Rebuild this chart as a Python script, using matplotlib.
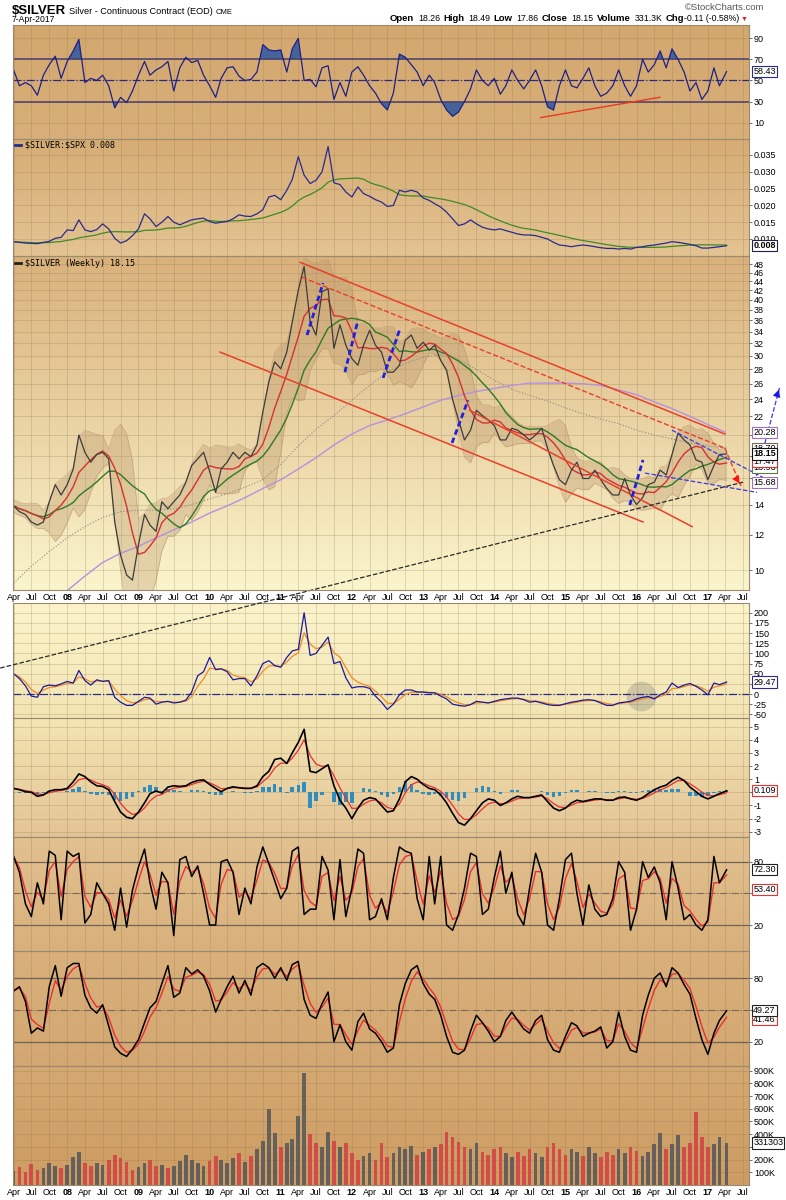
import matplotlib
matplotlib.use('Agg')
import matplotlib.pyplot as plt
import matplotlib.colors as mcolors
from matplotlib import font_manager
from matplotlib.ticker import NullLocator
import numpy as np
import pandas as pd

plt.rcParams['font.family'] = ['Liberation Sans', 'DejaVu Sans']

# ---------------- data: monthly readings, Apr 2007 .. Apr 2017 ----------------
price = ([13.9, 13.5, 13.3, 12.8, 12.6, 12.8, 14.2, 15.5, 14.7]                     # 2007 Apr-Dec
         + [15.5, 16.8, 20.0, 18.3, 17.4, 18.1, 18.3, 17.7, 12.8, 10.8, 9.75, 9.5]   # 2008
         + [11.4, 13.3, 12.6, 12.2, 14.2, 13.7, 14.2, 14.7, 15.7, 17.1, 17.7, 18.3]  # 2009
         + [16.6, 14.9, 16.8, 17.4, 18.3, 17.7, 18.3, 17.9, 19.0, 22.5, 26.3, 29.1]  # 2010
         + [28.1, 30.6, 35.7, 42.0, 47.5, 35.7, 33.4, 41.7, 42.4, 31.2, 35.2, 31.7]  # 2011
         + [29.6, 28.6, 31.7, 34.2, 31.7, 30.6, 27.6, 27.6, 28.6, 32.5, 33.4, 31.2]  # 2012
         + [32.2, 30.9, 31.7, 29.3, 27.9, 24.0, 21.6, 19.5, 20.5, 22.7, 22.1, 21.6]  # 2013
         + [21.0, 19.5, 19.5, 20.7, 20.5, 20.0, 19.5, 20.0, 20.7, 18.7, 17.1, 15.9]  # 2014
         + [15.5, 16.7, 17.4, 16.0, 16.0, 16.7, 15.9, 15.2, 14.7, 14.7, 16.0, 14.7]  # 2015
         + [14.0, 14.5, 15.5, 15.7, 16.7, 16.3, 18.1, 20.2, 19.5, 19.0, 17.6, 17.4]  # 2016
         + [15.9, 17.1, 18.1, 18.15])                                                # 2017

rsi = ([60, 45, 48, 45, 36, 55, 65, 73, 52]
       + [68, 78, 89, 48, 52, 50, 55, 45, 24, 34, 29, 40]
       + [55, 68, 55, 60, 63, 68, 40, 62, 72, 67, 69, 55]
       + [45, 34, 52, 62, 63, 54, 50, 51, 58, 84, 79, 78]
       + [79, 58, 80, 90, 50, 51, 44, 62, 64, 32, 48, 35]
       + [58, 63, 55, 45, 38, 28, 22, 38, 75, 72, 65, 58]
       + [45, 55, 48, 32, 22, 16, 20, 30, 42, 60, 50, 45]
       + [52, 37, 45, 60, 50, 42, 50, 60, 45, 25, 22, 45]
       + [60, 45, 43, 52, 62, 45, 35, 38, 45, 60, 45, 35]
       + [45, 70, 58, 65, 78, 62, 80, 70, 58, 40, 48, 32]
       + [40, 62, 45, 58.43])

ratio = ([0.0092, 0.0090, 0.0088, 0.0087, 0.0086, 0.0090, 0.0093, 0.0102, 0.0105]
         + [0.0127, 0.0125, 0.0157, 0.0127, 0.0122, 0.0128, 0.0145, 0.0130, 0.0102, 0.0088, 0.0095, 0.0110]
         + [0.0130, 0.0175, 0.0160, 0.0137, 0.0150, 0.0167, 0.0150, 0.0142, 0.0150, 0.0157, 0.0160, 0.0162]
         + [0.0152, 0.0147, 0.0150, 0.0152, 0.0160, 0.0172, 0.0168, 0.0167, 0.0175, 0.0187, 0.0225, 0.0230]
         + [0.0217, 0.0245, 0.0277, 0.0345, 0.0290, 0.0265, 0.0275, 0.0300, 0.0375, 0.0267, 0.0262, 0.0240]
         + [0.0225, 0.0255, 0.0235, 0.0227, 0.0217, 0.0210, 0.0197, 0.0200, 0.0245, 0.0240, 0.0245, 0.0240]
         + [0.0222, 0.0215, 0.0205, 0.0195, 0.0180, 0.0160, 0.0140, 0.0145, 0.0157, 0.0145, 0.0135, 0.0130]
         + [0.0127, 0.0130, 0.0125, 0.0120, 0.0115, 0.0112, 0.0112, 0.0110, 0.0105, 0.0100, 0.0090, 0.0082]
         + [0.0080, 0.0077, 0.0080, 0.0082, 0.0080, 0.0077, 0.0074, 0.0072, 0.0072, 0.0070, 0.0072, 0.0070]
         + [0.0075, 0.0077, 0.0080, 0.0082, 0.0085, 0.0088, 0.0092, 0.0090, 0.0087, 0.0084, 0.0080, 0.0073]
         + [0.0073, 0.0075, 0.0077, 0.0080])

roc = ([50, 38, 20, -5, -8, 18, 22, 20, 25]
       + [31, 27, 58, 33, 22, 35, 31, 33, -8, -20, -28, -28]
       + [-18, -8, -10, -25, -20, -18, -22, -20, -15, 5, 45, 55]
       + [90, 60, 62, 55, 35, 38, 38, 20, 45, 75, 82, 70]
       + [66, 90, 106, 110, 200, 95, 100, 120, 140, 75, 80, 40]
       + [15, 18, 18, 14, -5, -20, -38, -25, -2, 10, 10, 5]
       + [5, 3, 3, -5, -12, -25, -28, -30, -26, -18, -20, -22]
       + [-18, -14, -12, -10, -10, -14, -20, -18, -22, -26, -28, -28]
       + [-24, -20, -18, -15, -14, -16, -22, -28, -28, -22, -20, -18]
       + [-12, -8, -6, -12, -2, 5, 27, 16, 22, 26, 19, 10]
       + [-2, 27, 23, 29.47])

macd = ([0.3, 0.2, 0.05, 0.0, -0.3, -0.2, 0.1, 0.2, 0.2]
        + [0.3, 0.8, 1.4, 1.2, 0.8, 0.5, 0.45, 0.2, -0.7, -1.5, -1.9, -2.0]
        + [-1.5, -0.8, -0.1, 0.1, -0.05, 0.4, 0.5, 0.45, 0.5, 0.75, 0.9, 0.95]
        + [0.6, 0.3, 0.05, 0.3, 0.42, 0.35, 0.3, 0.3, 0.5, 1.2, 1.6, 2.5]
        + [2.6, 2.2, 3.0, 3.8, 4.8, 1.6, 1.5, 1.8, 2.1, 0.5, -0.6, -1.2]
        + [-2.0, -1.2, -0.6, -0.4, -0.5, -1.0, -1.5, -1.4, -0.5, 0.8, 1.2, 1.0]
        + [0.6, 0.3, 0.2, -0.2, -0.8, -1.6, -2.3, -2.5, -2.0, -1.4, -0.8, -0.5]
        + [-0.6, -1.0, -0.8, -0.5, -0.3, -0.4, -0.4, -0.3, -0.2, -0.7, -1.2, -1.4]
        + [-1.2, -0.8, -0.6, -0.7, -0.6, -0.5, -0.5, -0.6, -0.6, -0.4, -0.35, -0.5]
        + [-0.6, -0.4, -0.1, 0.2, 0.4, 0.55, 0.9, 1.15, 0.9, 0.4, 0.05, -0.3]
        + [-0.5, -0.3, -0.1, 0.109])

stoch_fast = ([85, 70, 40, 28, 60, 40, 90, 86, 25]
              + [90, 85, 88, 22, 30, 60, 50, 40, 15, 55, 18, 53]
              + [75, 92, 60, 35, 70, 60, 10, 82, 85, 66, 76, 50]
              + [20, 20, 80, 82, 70, 30, 55, 40, 75, 94, 78, 62]
              + [45, 55, 90, 94, 30, 35, 35, 85, 72, 25, 82, 28]
              + [55, 92, 88, 25, 28, 45, 25, 65, 94, 90, 88, 45]
              + [25, 85, 40, 85, 20, 15, 30, 55, 88, 85, 30, 35]
              + [65, 90, 50, 70, 30, 20, 55, 88, 70, 20, 15, 45]
              + [82, 88, 50, 20, 58, 35, 28, 30, 45, 80, 70, 15]
              + [35, 80, 65, 75, 60, 25, 80, 55, 25, 30, 20, 15]
              + [25, 85, 60, 72.3])

stoch_slow = ([68, 72, 58, 28, 33, 30, 72, 92, 63]
              + [90, 94, 94, 64, 52, 47, 55, 35, 15, 9, 6, 13]
              + [22, 38, 52, 58, 75, 92, 62, 66, 90, 84, 88, 82]
              + [68, 48, 60, 72, 82, 66, 78, 64, 90, 94, 90, 80]
              + [90, 78, 93, 96, 60, 45, 42, 56, 67, 20, 36, 20]
              + [12, 39, 47, 32, 28, 20, 10, 14, 55, 75, 88, 92]
              + [75, 65, 60, 45, 25, 10, 8, 12, 30, 45, 38, 30]
              + [20, 25, 40, 48, 40, 32, 28, 40, 45, 22, 12, 10]
              + [25, 38, 35, 25, 28, 30, 34, 14, 20, 48, 25, 12]
              + [10, 45, 64, 80, 85, 72, 90, 85, 74, 65, 42, 22]
              + [8, 28, 40, 49.27])

volume_k = ([110, 140, 100, 165, 120, 135, 170, 150, 130]
            + [160, 220, 260, 170, 150, 175, 160, 200, 235, 210, 180, 120]
            + [140, 170, 200, 150, 160, 130, 150, 190, 240, 200, 170, 150]
            + [190, 230, 200, 170, 210, 250, 180, 230, 280, 350, 600, 410]
            + [300, 330, 360, 540, 880, 400, 330, 300, 420, 350, 300, 330]
            + [250, 200, 230, 250, 200, 330, 220, 250, 300, 280, 310, 240]
            + [260, 280, 300, 320, 420, 380, 340, 300, 280, 330, 260, 240]
            + [280, 300, 250, 220, 260, 230, 280, 250, 220, 300, 330, 280]
            + [240, 280, 260, 230, 300, 250, 220, 260, 240, 280, 250, 300]
            + [270, 230, 260, 320, 412, 280, 320, 390, 300, 330, 577, 380]
            + [300, 320, 380, 331])

# quarterly readings of the long moving averages (Apr 2007 .. Apr 2017)
ma_dotted = [9.35, 10.2, 11.0, 11.8, 12.5, 13.1, 13.5, 13.6, 13.6, 13.7,
             14.0, 14.4, 14.8, 15.3, 15.9, 17.2, 18.9, 20.6, 22.1, 23.9,
             25.8, 27.6, 28.9, 29.8, 30.2, 29.5, 28.0, 26.5, 25.3, 24.5,
             23.8, 23.0, 22.3, 21.7, 21.2, 20.5, 20.0, 19.6, 19.2, 18.9, 18.70]
ma_purple = [9.0, 9.7, 10.4, 10.9, 11.3, 11.8, 12.3, 12.8, 13.4, 13.9,        # from Jan 2008
             14.5, 15.2, 15.9, 16.8, 17.8, 19.0, 20.1, 21.0, 21.6, 22.3,
             23.1, 23.9, 24.5, 25.0, 25.4, 25.8, 26.1, 26.1, 26.1, 26.0,
             25.8, 25.2, 24.6, 23.7, 22.9, 22.0, 21.1, 20.28]

# hand-drawn annotations (date, value)
chan_upper = (['2011-04-11', '2017-03-29'], [48.5, 20.1])
chan_mid = (['2011-04-21', '2017-03-29'], [44.9, 18.7])
chan_mid_drop = (['2017-03-29', '2017-06-20'], [18.7, 15.4])
chan_lower = (['2010-02-24', '2016-02-03'], [30.6, 12.8])
chan_lower2 = (['2013-08-28', '2016-10-12'], [22.7, 12.5])
flags = [(['2011-05-16', '2011-08-06'], [33.4, 43.6]),
         (['2011-11-26', '2012-02-01'], [27.6, 36.0]),
         (['2012-06-09', '2012-09-05'], [26.8, 34.6]),
         (['2013-05-29', '2013-08-19'], [19.2, 23.9]),
         (['2015-11-27', '2016-02-03'], [13.96, 17.6])]
wedge_top = (['2016-07-01', '2017-10-10'], [20.5, 16.1])
wedge_bot = (['2016-02-13', '2017-09-10'], [16.45, 14.9])
target_arrow = (['2017-08-20', '2018-01-05'], [15.2, 25.6])
support_line = (['2007-01-22', '2017-06-30'], [6.05, 15.7])
rsi_trend = (['2014-08-27', '2016-04-30'], [14.8, 34.1])
roc_circle = ('2016-01-26', -4)

# ---------------- derived series ----------------
dates = pd.date_range('2007-04-01', '2017-03-01', freq='MS').append(pd.DatetimeIndex(['2017-04-07']))
qdates = pd.date_range('2007-04-01', '2017-04-01', freq='QS-JAN')
px = pd.Series(price, index=dates)
ma_red = px.rolling(5, min_periods=1).mean()
ma_green = px.rolling(12, min_periods=1).mean()
sd = px.rolling(5, min_periods=2).std().bfill()
bb_up = ma_red + 1.6 * sd
bb_lo = (ma_red - 1.6 * sd).clip(lower=8)
rsi_s = pd.Series(rsi, index=dates)
ratio_s = pd.Series(ratio, index=dates)
ratio_ma = ratio_s.rolling(12, min_periods=1).mean()
roc_s = pd.Series(roc, index=dates)
roc_sig = roc_s.ewm(span=3).mean()
macd_s = pd.Series(macd, index=dates)
macd_sig = macd_s.ewm(span=3).mean()
macd_hist = macd_s - macd_sig
fs = pd.Series(stoch_fast, index=dates)
fs_sig = fs.ewm(alpha=0.6).mean()
ss = pd.Series(stoch_slow, index=dates)
ss_sig = ss.ewm(alpha=0.6).mean()
vol = pd.Series(volume_k, index=dates) * 1000
vol_col = ['#5a5a5a' if i == 0 or price[i] >= price[i - 1] else '#d24545' for i in range(len(price))]

# ---------------- layout ----------------
W, H = 786.0, 1200.0
X0, X1 = 13, 749
xmin, xmax = pd.Timestamp('2007-03-29'), pd.Timestamp('2017-07-31')
qticks = pd.date_range('2007-04-01', '2017-07-01', freq='QS-JAN')
qlabels = [d.strftime('%y') if d.month == 1 else d.strftime('%b') for d in qticks]

names = {f.name for f in font_manager.fontManager.ttflist}
narrow = 'Liberation Sans Narrow' if 'Liberation Sans Narrow' in names else 'Liberation Sans'

fig = plt.figure(figsize=(W / 100, H / 100), dpi=100)
fig.patch.set_facecolor('white')


def add_panel(top, bot, c_top, c_bot):
    r = [X0 / W, 1 - bot / H, (X1 - X0) / W, (bot - top) / H]
    bg = fig.add_axes(r, zorder=0)
    t = np.linspace(0, 1, 200)[:, None, None]
    img = (1 - t) * np.array(mcolors.to_rgb(c_top)) + t * np.array(mcolors.to_rgb(c_bot))
    bg.imshow(img, aspect='auto', extent=[0, 1, 0, 1], interpolation='bilinear')
    bg.set_axis_off()
    ax = fig.add_axes(r, zorder=2)
    ax.patch.set_visible(False)
    for s in ax.spines.values():
        s.set_color('#9a8a70')
        s.set_linewidth(0.8)
    ax.yaxis.tick_right()
    ax.tick_params(axis='y', direction='out', length=2.5, width=0.6, labelsize=6.5,
                   pad=1, colors='#555555', labelcolor='black')
    ax.set_xticks(qticks)
    ax.tick_params(axis='x', length=0, labelbottom=False)
    ax.grid(True, color='#8a7050', alpha=0.28, lw=0.6)
    ax.set_axisbelow(True)
    ax.set_xlim(xmin, xmax)
    return ax


def yticks(ax, vals, fmt, hide=()):
    ax.set_yticks(vals)
    ax.set_yticklabels(['' if v in hide else fmt(v) for v in vals])


def xlabels(ax):
    ax.tick_params(axis='x', labelbottom=True, labelsize=6.5, pad=2)
    ax.set_xticklabels(qlabels)
    for lab, d in zip(ax.get_xticklabels(), qticks):
        if d.month == 1:
            lab.set_fontweight('bold')


def tag(ax, y, txt, ec, bold=False):
    ax.annotate(txt, xy=(1.0, y), xycoords=('axes fraction', 'data'), xytext=(3, 0),
                textcoords='offset points', ha='left', va='center', fontsize=6.5,
                fontweight='bold' if bold else 'normal', color='black',
                bbox=dict(boxstyle='square,pad=0.12', fc='white', ec=ec, lw=0.8),
                annotation_clip=False, zorder=10)


def legend(ax, yfrac, txt, col):
    ax.plot([0.003, 0.011], [yfrac, yfrac], transform=ax.transAxes, color=col, lw=2)
    ax.text(0.016, yfrac, txt, transform=ax.transAxes, va='center', ha='left', fontsize=6,
            family='DejaVu Sans Mono', parse_math=False)


ax_rsi = add_panel(25, 139, '#d3a86f', '#d8af78')
ax_ratio = add_panel(139, 256, '#d6ac74', '#e4c493')
ax_px = add_panel(256, 590, '#d9b17b', '#fbf5cc')
ax_roc = add_panel(603, 718, '#fbf4cb', '#f3e5b3')
ax_macd = add_panel(718, 837, '#f3e5b3', '#e4c495')
ax_fs = add_panel(837, 951, '#e2c190', '#d9b07b')
ax_ss = add_panel(951, 1066, '#d9b07b', '#d3a771')
ax_vol = add_panel(1066, 1185, '#d4a971', '#cd9c62')
ax_px.set_zorder(5)

# ---- RSI ----
ax_rsi.fill_between(dates, rsi_s, 70, where=rsi_s >= 70, interpolate=True, color='#46629a', lw=0)
ax_rsi.fill_between(dates, rsi_s, 30, where=rsi_s <= 30, interpolate=True, color='#46629a', lw=0)
ax_rsi.axhline(70, color='#4a3f6e', lw=1.1)
ax_rsi.axhline(30, color='#4a3f6e', lw=1.1)
ax_rsi.axhline(50, color='#2a2a80', lw=0.9, ls='-.')
ax_rsi.plot(dates, rsi_s, color='#1f1f85', lw=0.9)
ax_rsi.plot(pd.to_datetime(rsi_trend[0]), rsi_trend[1], color='#e83a20', lw=1.0)
ax_rsi.set_ylim(-5.5, 102.6)
yticks(ax_rsi, [10, 30, 50, 70, 90], str)
tag(ax_rsi, 58.43, '58.43', '#2a2a90')

# ---- SILVER:SPX ----
ax_ratio.plot(dates, ratio_ma, color='#3f8a25', lw=0.9)
ax_ratio.plot(dates, ratio_s, color='#2a2a8c', lw=0.9)
ax_ratio.set_ylim(0.00494, 0.03976)
yticks(ax_ratio, [0.010, 0.015, 0.020, 0.025, 0.030, 0.035], lambda v: '%.3f' % v)
legend(ax_ratio, 0.949, '$SILVER:$SPX 0.008', '#2a2a8c')
tag(ax_ratio, 0.0080, '0.008', '#222244', bold=True)

# ---- price ----
ax_px.set_yscale('log')
ax_px.set_ylim(9.03, 50.1)
yticks(ax_px, list(range(10, 49, 2)), str, hide=(16, 18, 20))
ax_px.yaxis.set_minor_locator(NullLocator())
ax_px.fill_between(dates, bb_lo, bb_up, color='#b8946a', alpha=0.33, lw=0)
ax_px.plot(dates, bb_up, color='#b8946a', lw=0.5, alpha=0.7)
ax_px.plot(dates, bb_lo, color='#b8946a', lw=0.5, alpha=0.7)
ax_px.plot(qdates, ma_dotted, color='#8a8a8a', lw=0.8, ls=':')
ax_px.plot(qdates[3:], ma_purple, color='#b590e0', lw=1.0)
ax_px.plot(dates, ma_green, color='#2f7a25', lw=1.0)
ax_px.plot(dates, ma_red, color='#d83030', lw=1.0)
ax_px.plot(dates, px, color='#3c3c3c', lw=0.9)

red_kw = dict(color='#e8402a', lw=1.1)
for seg in (chan_upper, chan_lower, chan_lower2):
    ax_px.plot(pd.to_datetime(seg[0]), seg[1], **red_kw)
ax_px.plot(pd.to_datetime(chan_mid[0]), chan_mid[1], color='#e8402a', lw=1.0, ls='--')
ax_px.plot(pd.to_datetime(chan_mid_drop[0]), chan_mid_drop[1], color='#e8402a', lw=1.0, ls='--', clip_on=False)
ax_px.annotate('', xy=(pd.Timestamp(chan_mid_drop[0][1]), chan_mid_drop[1][1]),
               xytext=(pd.Timestamp('2017-05-20'), 16.2),
               arrowprops=dict(arrowstyle='-|>', color='#ff1010', lw=0, mutation_scale=14),
               annotation_clip=False)
for seg in flags:
    ax_px.plot(pd.to_datetime(seg[0]), seg[1], color='#2020e0', lw=2.0, ls=(0, (2, 1.2)))
for seg in (wedge_top, wedge_bot):
    ax_px.plot(pd.to_datetime(seg[0]), seg[1], color='#3a3ae0', lw=0.9, ls='--', clip_on=False)
ax_px.plot(pd.to_datetime(target_arrow[0]), target_arrow[1], color='#3a3ae0', lw=0.9, ls='--', clip_on=False)
ax_px.annotate('', xy=(pd.Timestamp(target_arrow[0][1]), target_arrow[1][1]),
               xytext=(pd.Timestamp('2017-12-01'), 23.0),
               arrowprops=dict(arrowstyle='-|>', color='#1a1ae8', lw=0, mutation_scale=14),
               annotation_clip=False)
ax_px.plot(pd.to_datetime(support_line[0]), support_line[1], color='#2a2a2a', lw=0.9, ls='--', clip_on=False)
legend(ax_px, 0.979, '$SILVER (Weekly) 18.15', '#222222')
tag(ax_px, 20.28, '20.28', '#a070c0')
tag(ax_px, 18.70, '18.70', '#7a6a5a')
tag(ax_px, 15.68, '15.68', '#a070c0')
tag(ax_px, 16.93, '16.93', '#5a7a4a')
tag(ax_px, 17.47, '17.47', '#d83030')
tag(ax_px, 18.15, '18.15', '#111111', bold=True)
xlabels(ax_px)

# ---- ROC style oscillator ----
ax_roc.axhline(0, color='#2a2a8a', lw=0.9, ls='-.')
ax_roc.plot(dates, roc_sig, color='#f08a25', lw=0.9)
ax_roc.plot(dates, roc_s, color='#1a1a9c', lw=0.9)
ax_roc.scatter([pd.Timestamp(roc_circle[0])], [roc_circle[1]], s=460, color='#707070', alpha=0.28, lw=0)
ax_roc.set_ylim(-59, 224)
yticks(ax_roc, list(range(-50, 201, 25)), str, hide=(25,))
tag(ax_roc, 29.47, '29.47', '#2a2a90')

# ---- MACD ----
ax_macd.bar(dates, macd_hist, width=18, color='#2f8ec0', lw=0)
ax_macd.plot(dates, macd_sig, color='#e83030', lw=0.9)
ax_macd.plot(dates, macd_s, color='black', lw=1.2)
ax_macd.set_ylim(-3.40, 5.66)
yticks(ax_macd, list(range(-3, 6)), str, hide=(0,))
tag(ax_macd, 0.109, '0.109', '#e83030')

# ---- stochastics ----
for ax, k, d in ((ax_fs, fs, fs_sig), (ax_ss, ss, ss_sig)):
    ax.axhline(80, color='#6e6458', lw=0.9)
    ax.axhline(20, color='#6e6458', lw=0.9)
    ax.axhline(50, color='#7a6a5a', lw=0.8, ls='-.')
    ax.plot(dates, d, color='#e83030', lw=1.0)
    ax.plot(dates, k, color='black', lw=1.1)
    yticks(ax, [20, 50, 80], str, hide=(50,))
ax_fs.set_ylim(-4.6, 103.4)
ax_ss.set_ylim(-3.0, 105.8)
tag(ax_fs, 53.40, '53.40', '#e83030')
tag(ax_fs, 72.30, '72.30', '#222222')
tag(ax_ss, 41.46, '41.46', '#e83030')
tag(ax_ss, 49.27, '49.27', '#222222')

# ---- volume ----
ax_vol.bar(dates, vol, width=19, color=vol_col, lw=0, alpha=0.9)
ax_vol.set_ylim(0, 937000)
yticks(ax_vol, list(range(100000, 900001, 100000)), lambda v: '%dK' % (v / 1000), hide=(300000,))
tag(ax_vol, 331303, '331303', '#222222')
xlabels(ax_vol)

# ---- header ----
def ftxt(x, y, s, **kw):
    return fig.text(x / W, 1 - y / H, s, parse_math=False, va='baseline', **kw)


fig.canvas.draw()
rend = fig.canvas.get_renderer()


def run(x, y, items, align='left'):
    # place text pieces one after another, measuring each
    seq = items if align == 'left' else list(reversed(items))
    for s, kw, gap in seq:
        t = ftxt(x, y, s, ha=align, **kw)
        w = t.get_window_extent(renderer=rend).width
        x = x + w + gap if align == 'left' else x - w - gap


run(12, 14, [('$SILVER', dict(fontsize=9.5, fontweight='bold', family=narrow), 3),
             ('Silver - Continuous Contract (EOD)', dict(fontsize=6.6, family=narrow), 3),
             ('CME', dict(fontsize=5.5, family=narrow), 0)])
ftxt(12, 22, '7-Apr-2017', fontsize=6.2, family=narrow)
ftxt(764, 10, '\u00a9StockCharts.com', fontsize=6.8, color='#555555', ha='right')

b = dict(fontsize=6.8, fontweight='bold', family=narrow)
n = dict(fontsize=6.3, family=narrow)
ftxt(747, 21, '\u25bc', fontsize=5, color='#e02020', ha='right')
run(739, 21, [('Open', b, 3), ('18.26', n, 4), ('High', b, 3), ('18.49', n, 4),
              ('Low', b, 3), ('17.86', n, 4), ('Close', b, 3), ('18.15', n, 4),
              ('Volume', b, 3), ('331.3K', n, 4), ('Chg', b, 3), ('-0.11 (-0.58%)', n, 0)],
    align='right')

fig.savefig('out.png', dpi=100, facecolor='white')
